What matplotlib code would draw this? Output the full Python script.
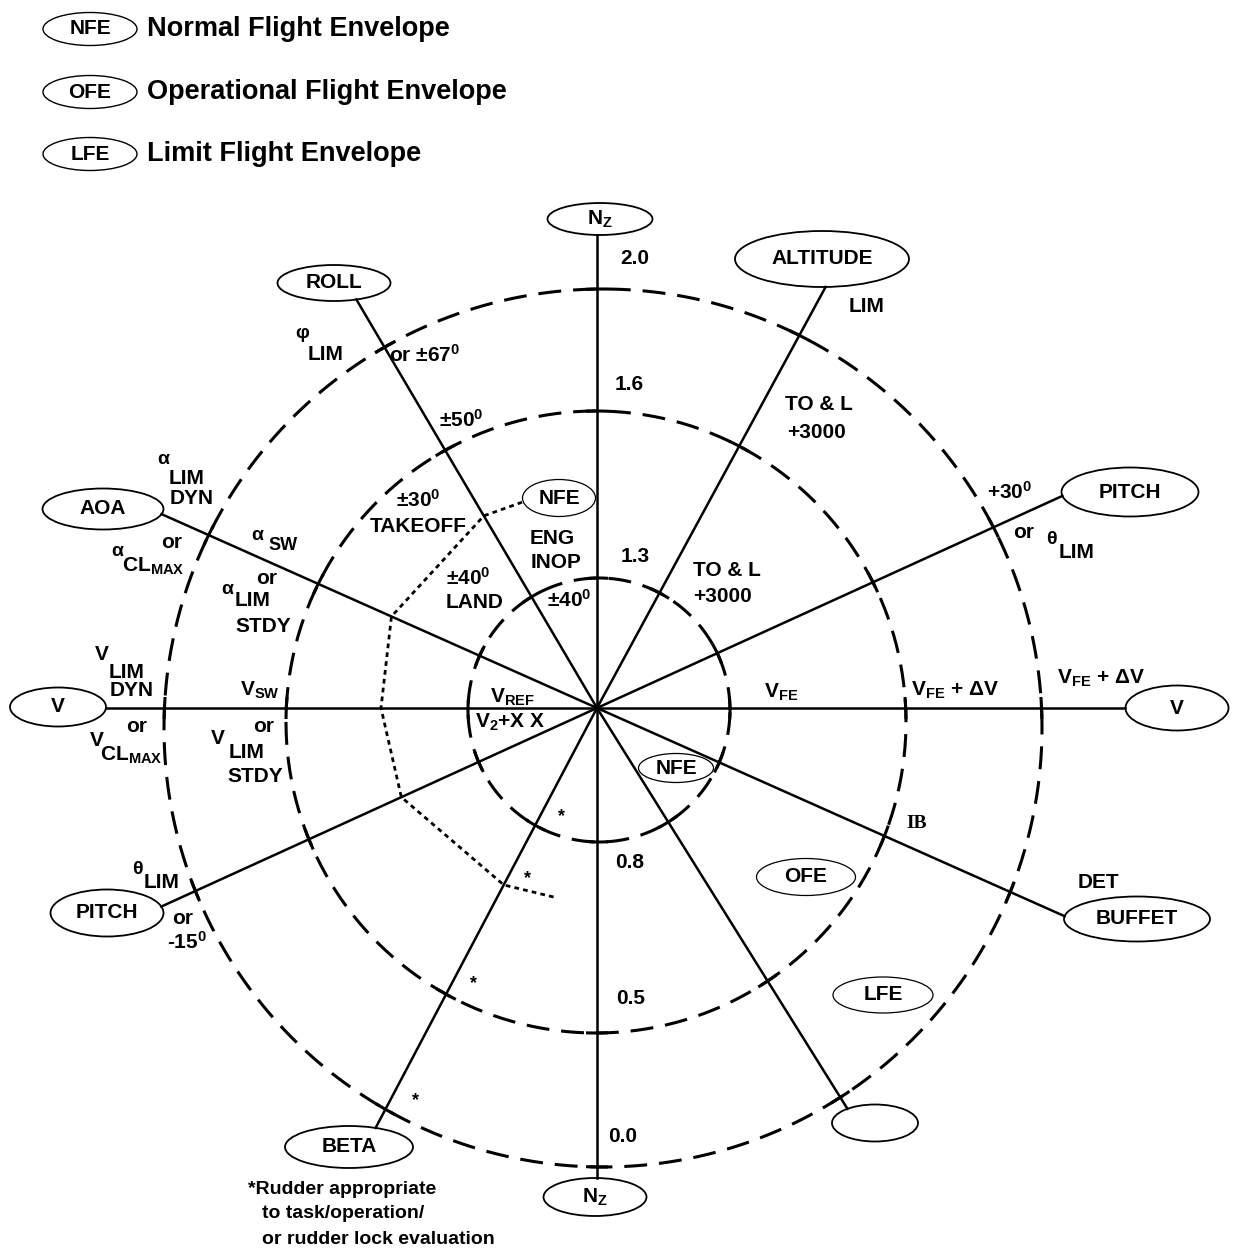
import numpy as np
import matplotlib.pyplot as plt
from matplotlib.patches import Ellipse

plt.rcParams["font.family"] = ["Liberation Sans", "DejaVu Sans"]
plt.rcParams["font.weight"] = "bold"
plt.rcParams["mathtext.fontset"] = "custom"
plt.rcParams["mathtext.rm"] = "Liberation Sans:bold"
plt.rcParams["mathtext.it"] = "Liberation Sans:bold"
plt.rcParams["mathtext.bf"] = "Liberation Sans:bold"
plt.rcParams["mathtext.default"] = "regular"

# ---- values ----
legend_tags = ["NFE", "OFE", "LFE"]
legend_names = ["Normal Flight Envelope", "Operational Flight Envelope",
                "Limit Flight Envelope"]

# one spoke per flight parameter, direction in degrees (0 = right, ccw)
spoke_names = ["V", "PITCH", "ALTITUDE", "N$_Z$", "ROLL", "AOA",
               "V", "PITCH", "BETA", "N$_Z$", "", "BUFFET"]
spoke_angles = [0, 24.5, 61.5, 90, 120.5, 156,
                180, 204.5, 242.2, 270, 302, 336]

# envelope rings, inside out
ring_names = ["NFE", "OFE", "LFE"]

# load factor where the rings cross the Nz axis
nz_top_values = ["1.3", "1.6", "2.0"]
nz_bottom_values = ["0.8", "0.5", "0.0"]

# dotted engine-inop NFE boundary: angle (deg) and distance from centre (px)
nfe_eng_angles = [110, 120.5, 156, 180, 204.5, 242.2, 258]
nfe_eng_radii = [219, 223, 225, 216, 215, 200, 194]

# ---- layout (pixel space of the original sheet) ----
W, H = 1233, 1253
CENTER = (597, 708)
ring_centers = [(599, 710), (596, 722), (603, 728)]
ring_radii = [(131, 132), (310, 311), (439, 439)]
spoke_boxes = [(1177, 708, 103, 45), (1130, 492, 137, 49), (822, 259, 174, 56),
               (600, 219, 105, 32), (334, 283, 113, 36), (103, 509, 121, 41),
               (58, 707, 96, 39), (107, 913, 113, 47), (349, 1147, 128, 42),
               (595, 1197, 103, 38), (875, 1123, 86, 37), (1137, 919, 146, 45)]
ring_tag_boxes = [(676, 768, 75, 29), (806, 877, 99, 37), (883, 995, 100, 36)]
nz_top_pos = [(635, 557), (629, 384), (635, 258)]
nz_bottom_pos = [(630, 862), (631, 999), (623, 1137)]
legend_rows = [29, 92, 154]

fig = plt.figure(figsize=(W / 100, H / 100), dpi=100)
ax = fig.add_axes([0, 0, 1, 1])
ax.set_xlim(0, W)
ax.set_ylim(H, 0)
ax.axis("off")


def oval(x, y, w, h, lw=1.2):
    ax.add_patch(Ellipse((x, y), w, h, fill=False, ec="black", lw=lw, zorder=3))


def label(s, x, y, size=15, ha="center", **kw):
    ax.text(x, y, s, ha=ha, va="center", fontsize=size, fontweight="bold",
            zorder=4, **kw)


def ray_to_ellipse(angle, cx, cy, rx, ry, far):
    """
    Distance from CENTER along angle to an ellipse (near or far crossing).
    """
    ux, uy = np.cos(np.radians(angle)), -np.sin(np.radians(angle))
    px, py = CENTER[0] - cx, CENTER[1] - cy
    a = (ux / rx) ** 2 + (uy / ry) ** 2
    b = 2 * (px * ux / rx ** 2 + py * uy / ry ** 2)
    c = (px / rx) ** 2 + (py / ry) ** 2 - 1
    disc = b * b - 4 * a * c
    if disc < 0:
        return np.hypot(px, py)
    if far:
        return (-b + np.sqrt(disc)) / (2 * a)
    return (-b - np.sqrt(disc)) / (2 * a)


def polar(angle, r):
    t = np.radians(angle)
    return CENTER[0] + r * np.cos(t), CENTER[1] - r * np.sin(t)


# legend
for tag, name, y in zip(legend_tags, legend_names, legend_rows):
    oval(90, y, 94, 33, lw=1.0)
    label(tag, 90, y, size=15)
    label(name, 147, y, size=19.5, ha="left")

# dashed envelope rings with solid tick marks where spokes cross
phi = np.linspace(0, 2 * np.pi, 600)
for (rcx, rcy), (rx, ry) in zip(ring_centers, ring_radii):
    ax.plot(rcx + rx * np.cos(phi), rcy - ry * np.sin(phi), color="black",
            lw=2.2, linestyle=(0, (7.5, 3.9)), zorder=2)
    for ang in spoke_angles:
        t = ray_to_ellipse(ang, rcx, rcy, rx, ry, far=True)
        x, y = polar(ang, t)
        p0 = np.arctan2(-(y - rcy) / ry, (x - rcx) / rx)
        d = 11.0 / rx
        ps = np.linspace(p0 - d, p0 + d, 12)
        ax.plot(rcx + rx * np.cos(ps), rcy - ry * np.sin(ps), color="black",
                lw=2.2, solid_capstyle="butt", zorder=2)

# spokes and their name ovals
for name, ang, (ex, ey, ew, eh) in zip(spoke_names, spoke_angles, spoke_boxes):
    t = ray_to_ellipse(ang, ex, ey, ew / 2, eh / 2, far=False)
    x, y = polar(ang, t)
    ax.plot([CENTER[0], x], [CENTER[1], y], color="black", lw=1.8, zorder=2)
    oval(ex, ey, ew, eh, lw=1.3)
    if name:
        label(name, ex, ey)

# ring tags
for tag, (x, y, w, h) in zip(ring_names, ring_tag_boxes):
    oval(x, y, w, h, lw=0.9)
    label(tag, x, y)

# Nz scale values
for s, (x, y) in zip(nz_top_values + nz_bottom_values, nz_top_pos + nz_bottom_pos):
    label(s, x, y)

# dotted engine-inop boundary and its tag
xs, ys = polar(np.array(nfe_eng_angles), np.array(nfe_eng_radii))
ax.plot(xs, ys, color="black", lw=2.0, linestyle=(0, (1.7, 1.5)), zorder=2)
oval(559, 498, 73, 37, lw=0.9)
label("NFE", 559, 498)

# annotations
notes = [
    ("LIM", 867, 307, 15), ("φ", 302, 333, 14), ("LIM", 326, 355, 15),
    ("or ±67$^0$", 425, 355, 15), ("±50$^0$", 461, 420, 15),
    ("TO & L", 819, 405, 15), ("+3000", 817, 432, 15),
    ("α", 163, 460, 14), ("LIM", 187, 478, 15), ("DYN", 192, 498, 15),
    ("±30$^0$", 418, 500, 15), ("TAKEOFF", 418, 527, 15),
    ("+30$^0$", 1010, 492, 15), ("or", 1024, 532, 15),
    ("θ", 1051, 540, 14), ("LIM", 1077, 552, 15),
    ("ENG", 552, 538, 15), ("INOP", 556, 562, 15),
    ("or", 172, 542, 15), ("α", 117, 551, 14), ("CL$_{MAX}$", 153, 566, 15),
    ("α", 257, 536, 14), ("SW", 283, 546, 13),
    ("TO & L", 727, 570, 15), ("+3000", 722, 597, 15),
    ("±40$^0$", 468, 578, 15), ("LAND", 475, 602, 15),
    ("±40$^0$", 569, 600, 15),
    ("or", 267, 578, 15), ("α", 227, 590, 14), ("LIM", 253, 600, 15),
    ("STDY", 263, 627, 15),
    ("V", 102, 655, 15), ("LIM", 127, 672, 15), ("DYN", 132, 690, 15),
    ("V$_{SW}$", 260, 690, 15), ("V$_{REF}$", 512, 697, 15),
    ("V$_{FE}$", 781, 692, 15), ("V$_{FE}$ + ΔV", 955, 690, 15),
    ("V$_{FE}$ + ΔV", 1101, 678, 15), ("V$_2$+X X", 510, 722, 15),
    ("or", 137, 727, 15), ("V", 97, 740, 15), ("CL$_{MAX}$", 131, 755, 15),
    ("or", 264, 727, 15), ("V", 218, 738, 15), ("LIM", 247, 752, 15),
    ("STDY", 255, 777, 15),
    ("*", 562, 817, 13), ("*", 527, 879, 13), ("*", 473, 984, 13),
    ("*", 415, 1101, 13),
    ("θ", 137, 870, 14), ("LIM", 162, 883, 15),
    ("DET", 1098, 882, 15),
    ("or", 183, 918, 15), ("-15$^0$", 187, 942, 15),
]
for s, x, y, size in notes:
    label(s, x, y, size=size)
label("IB", 917, 824, size=14, family="Liberation Serif")

# footnote
label("*Rudder appropriate", 248, 1190, size=14, ha="left")
label("to task/operation/", 262, 1213, size=14, ha="left")
label("or rudder lock evaluation", 262, 1240, size=14, ha="left")

fig.savefig("out.png", dpi=100)
plt.close(fig)
